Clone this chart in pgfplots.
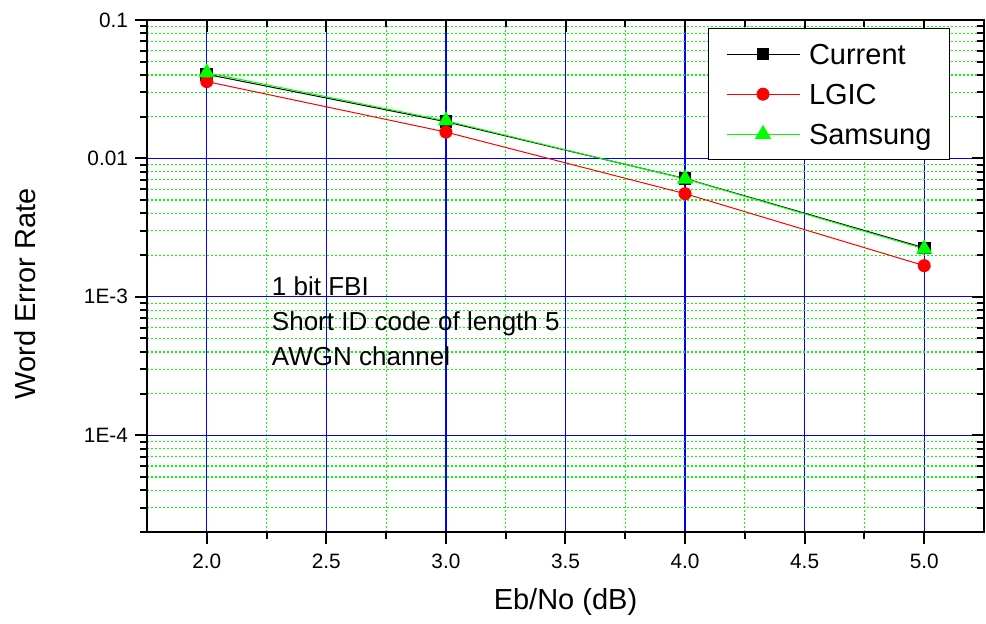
\documentclass[border=0pt]{standalone}
\usepackage{pgfplots}
\pgfplotsset{compat=1.18}
\usepackage{fontspec}
\setmainfont{Liberation Sans}
\definecolor{lgreen}{RGB}{0,255,0}
\definecolor{gblue}{RGB}{0,0,255}
\begin{document}
\begin{tikzpicture}
\useasboundingbox (-73.5pt,-46pt) rectangle (419.5pt,266pt);
\begin{axis}[
  scale only axis, width=418.5pt, height=256pt,
  xmin=1.75, xmax=5.25, ymin=2e-5, ymax=0.1, ymode=log,
  xtick={2,2.5,3,3.5,4,4.5,5},
  minor xtick={2.25,2.75,3.25,3.75,4.25,4.75},
  ytick={1e-4,1e-3,1e-2,1e-1},
  minor ytick={2e-5,3e-5,4e-5,5e-5,6e-5,7e-5,8e-5,9e-5,
               2e-4,3e-4,4e-4,5e-4,6e-4,7e-4,8e-4,9e-4,
               2e-3,3e-3,4e-3,5e-3,6e-3,7e-3,8e-3,9e-3,
               2e-2,3e-2,4e-2,5e-2,6e-2,7e-2,8e-2,9e-2},
  major tick length=6pt, minor tick length=3.5pt,
  tick style={draw=black, line width=1pt},
  axis line style={line width=1pt},
  tick label style={font=\fontsize{10.4}{12}\selectfont},
  xticklabel style={yshift=-1.5pt},
  xticklabels={2.0,2.5,3.0,3.5,4.0,4.5,5.0},
  yticklabels={1E-4,1E-3,0.01,0.1},
  tick align=outside, xtick pos=left, ytick pos=left,
  grid=both,
  major grid style={draw=gblue, line width=0.6pt},
  minor grid style={draw=lgreen, line width=0.6pt, dash pattern=on 1pt off 1pt},
  xlabel={Eb/No (dB)}, ylabel={Word Error Rate},
  label style={font=\fontsize{14.5}{16}\selectfont},
  xlabel style={at={(axis description cs:0.5,0)}, anchor=center, yshift=-35pt},
  ylabel style={at={(axis description cs:-0.1458,0.465)}, anchor=center},
]
\addplot[black, line width=0.5pt, mark=square*, mark size=2.9pt] coordinates {(2,0.0405) (3,0.0184) (4,0.00715) (5,0.00226)};
\addplot[red, line width=0.5pt, mark=*, mark size=3pt] coordinates {(2,0.0359) (3,0.0155) (4,0.00556) (5,0.00168)};
\addplot[lgreen, line width=0.5pt, mark=triangle*, mark size=4.2pt] coordinates {(2,0.0416) (3,0.0187) (4,0.00712) (5,0.00222)};
\node[anchor=base west, inner sep=0pt, font=\fontsize{13}{15}\selectfont] at (axis cs:2.271,1.017e-3) {1 bit FBI};
\node[anchor=base west, inner sep=0pt, font=\fontsize{13}{15}\selectfont] at (axis cs:2.271,5.68e-4) {Short ID code of length 5};
\node[anchor=base west, inner sep=0pt, font=\fontsize{13}{15}\selectfont] at (axis cs:2.271,3.18e-4) {AWGN channel};
\end{axis}
\begin{axis}[
  scale only axis, width=418.5pt, height=256pt,
  xmin=1.75, xmax=5.25, ymin=2e-5, ymax=0.1, ymode=log,
  xtick={2,2.5,3,3.5,4,4.5,5},
  minor xtick={2.25,2.75,3.25,3.75,4.25,4.75},
  ytick={1e-4,1e-3,1e-2,1e-1},
  minor ytick={2e-5,3e-5,4e-5,5e-5,6e-5,7e-5,8e-5,9e-5,
               2e-4,3e-4,4e-4,5e-4,6e-4,7e-4,8e-4,9e-4,
               2e-3,3e-3,4e-3,5e-3,6e-3,7e-3,8e-3,9e-3,
               2e-2,3e-2,4e-2,5e-2,6e-2,7e-2,8e-2,9e-2},
  major tick length=6pt, minor tick length=3.5pt,
  tick style={draw=black, line width=1pt},
  axis line style={line width=1pt},
  xticklabels={}, yticklabels={},
  tick align=inside, xtick pos=right, ytick pos=right,
  legend cell align=left,
  legend image code/.code={\draw[mark repeat=2,mark phase=2,#1] plot coordinates {(0pt,0pt) (18.25pt,0pt) (36.5pt,0pt)};},
  legend style={at={(axis description cs:0.9594,0.984)}, anchor=north east,
    draw=black, line width=0.5pt, fill=white,
    font=\fontsize{14.5}{17}\selectfont,
    inner xsep=9pt, inner ysep=7.5pt, row sep=9.5pt, column sep=4.5pt,
    nodes={inner sep=0pt, text height=10.5pt, text depth=0pt}},
]
\addlegendimage{black, line width=0.5pt, mark=square*, mark size=2.9pt}
\addlegendentry{Current}
\addlegendimage{red, line width=0.5pt, mark=*, mark size=3pt}
\addlegendentry{LGIC}
\addlegendimage{lgreen, line width=0.5pt, mark=triangle*, mark size=4.2pt}
\addlegendentry{Samsung}
\end{axis}
\end{tikzpicture}
\end{document}
